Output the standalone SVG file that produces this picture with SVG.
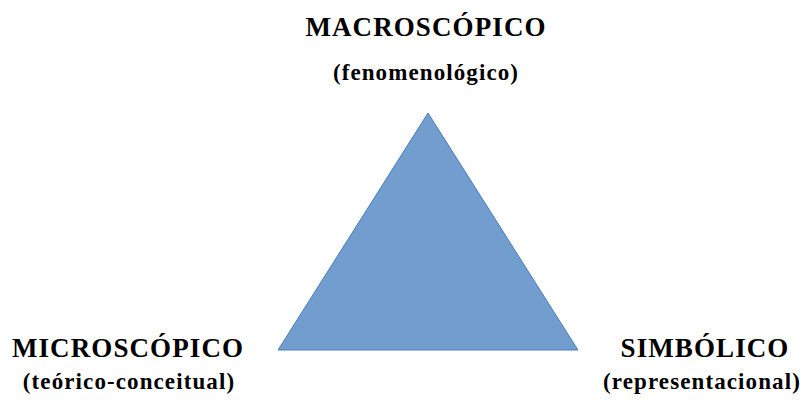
<svg xmlns="http://www.w3.org/2000/svg" width="800" height="401" viewBox="0 0 800 401">
<style>
.t{font-family:"Liberation Serif","Times New Roman",serif;font-weight:bold;fill:#000;text-anchor:middle}
.h{font-size:27px;letter-spacing:1.1px}
.s{font-size:23px;letter-spacing:1.1px}
</style>
<rect width="800" height="401" fill="#fff"/>
<g id="triangle">
<polygon points="428,113 278,350 578,350" fill="#719ece" stroke="#4a7ebb" stroke-width="1"/>
</g>
<g id="macro">
<text class="t h" x="426" y="36">MACROSCÓPICO</text>
<text class="t s" x="426" y="80">(fenomenológico)</text>
</g>
<g id="micro">
<text class="t h" x="128" y="357">MICROSCÓPICO</text>
<text class="t s" x="129" y="389">(teórico-conceitual)</text>
</g>
<g id="simb">
<text class="t h" x="705" y="357">SIMBÓLICO</text>
<text class="t s" x="702" y="389">(representacional)</text>
</g>
<g id="connectors"></g>
</svg>
